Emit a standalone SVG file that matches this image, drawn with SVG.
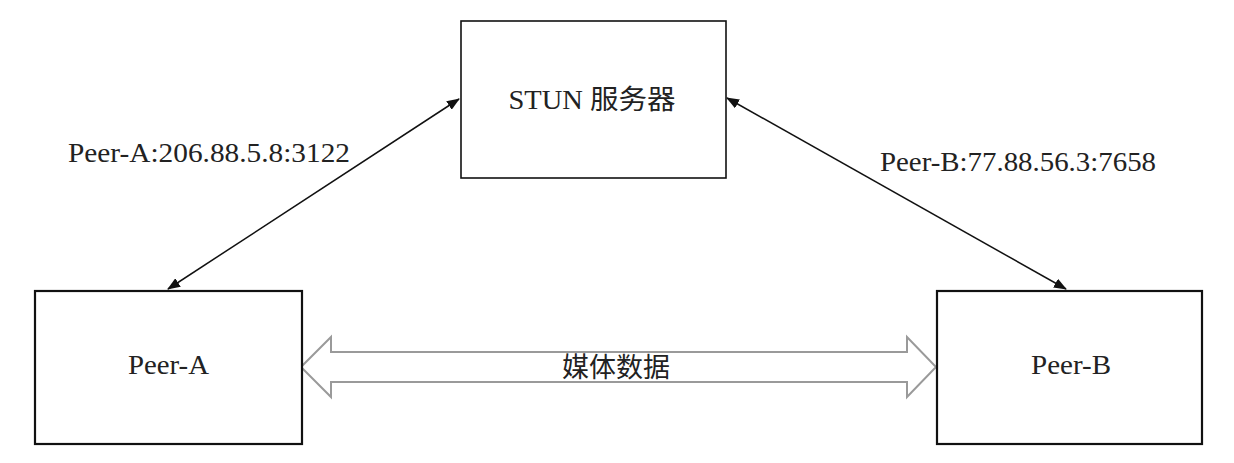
<svg xmlns="http://www.w3.org/2000/svg" width="1234" height="463" viewBox="0 0 1234 463">
<style>
.box{fill:#fff;stroke:#111;stroke-width:2.2}
.lbl{font-family:"Liberation Serif","Noto Sans CJK SC",serif;fill:#222;font-size:27px}
.conn{stroke:#111;stroke-width:1.5;fill:none;marker-start:url(#ah);marker-end:url(#ah)}
.big{fill:#fff;stroke:#9a9a9a;stroke-width:2}
</style>
<defs>
<marker id="ah" viewBox="0 0 13 10" refX="12" refY="5" markerWidth="13" markerHeight="10" markerUnits="userSpaceOnUse" orient="auto-start-reverse">
<path d="M0,0 L13,5 L0,10 Z" fill="#111"/>
</marker>
</defs>
<rect width="1234" height="463" fill="#fff"/>
<g id="connectors">
<line class="conn" x1="168" y1="289" x2="459" y2="99"/>
<line class="conn" x1="727" y1="98" x2="1066" y2="289"/>
<polygon class="big" points="301,367 331,337 331,352 907,352 907,337 936,367 907,397 907,382 331,382 331,397"/>
<text class="lbl" x="616" y="377" text-anchor="middle" font-size="27" style="font-family:'Noto Sans CJK SC',sans-serif">媒体数据</text>
<text class="lbl" x="68" y="162" font-size="26" textLength="282" lengthAdjust="spacingAndGlyphs">Peer-A:206.88.5.8:3122</text>
<text class="lbl" x="880" y="171" font-size="26" textLength="276" lengthAdjust="spacingAndGlyphs">Peer-B:77.88.56.3:7658</text>
</g>
<g id="stun">
<rect class="box" x="461" y="21" width="265" height="157" style="stroke-width:1.6"/>
<text class="lbl" x="592" y="109" text-anchor="middle" font-size="29" textLength="167" lengthAdjust="spacingAndGlyphs">STUN 服务器</text>
</g>
<g id="peer-a">
<rect class="box" x="35" y="291" width="267" height="153"/>
<text class="lbl" x="168.5" y="374" text-anchor="middle" font-size="25" textLength="81" lengthAdjust="spacingAndGlyphs">Peer-A</text>
</g>
<g id="peer-b">
<rect class="box" x="937" y="291" width="265" height="153"/>
<text class="lbl" x="1071" y="374" text-anchor="middle" font-size="25" textLength="80" lengthAdjust="spacingAndGlyphs">Peer-B</text>
</g>
</svg>
